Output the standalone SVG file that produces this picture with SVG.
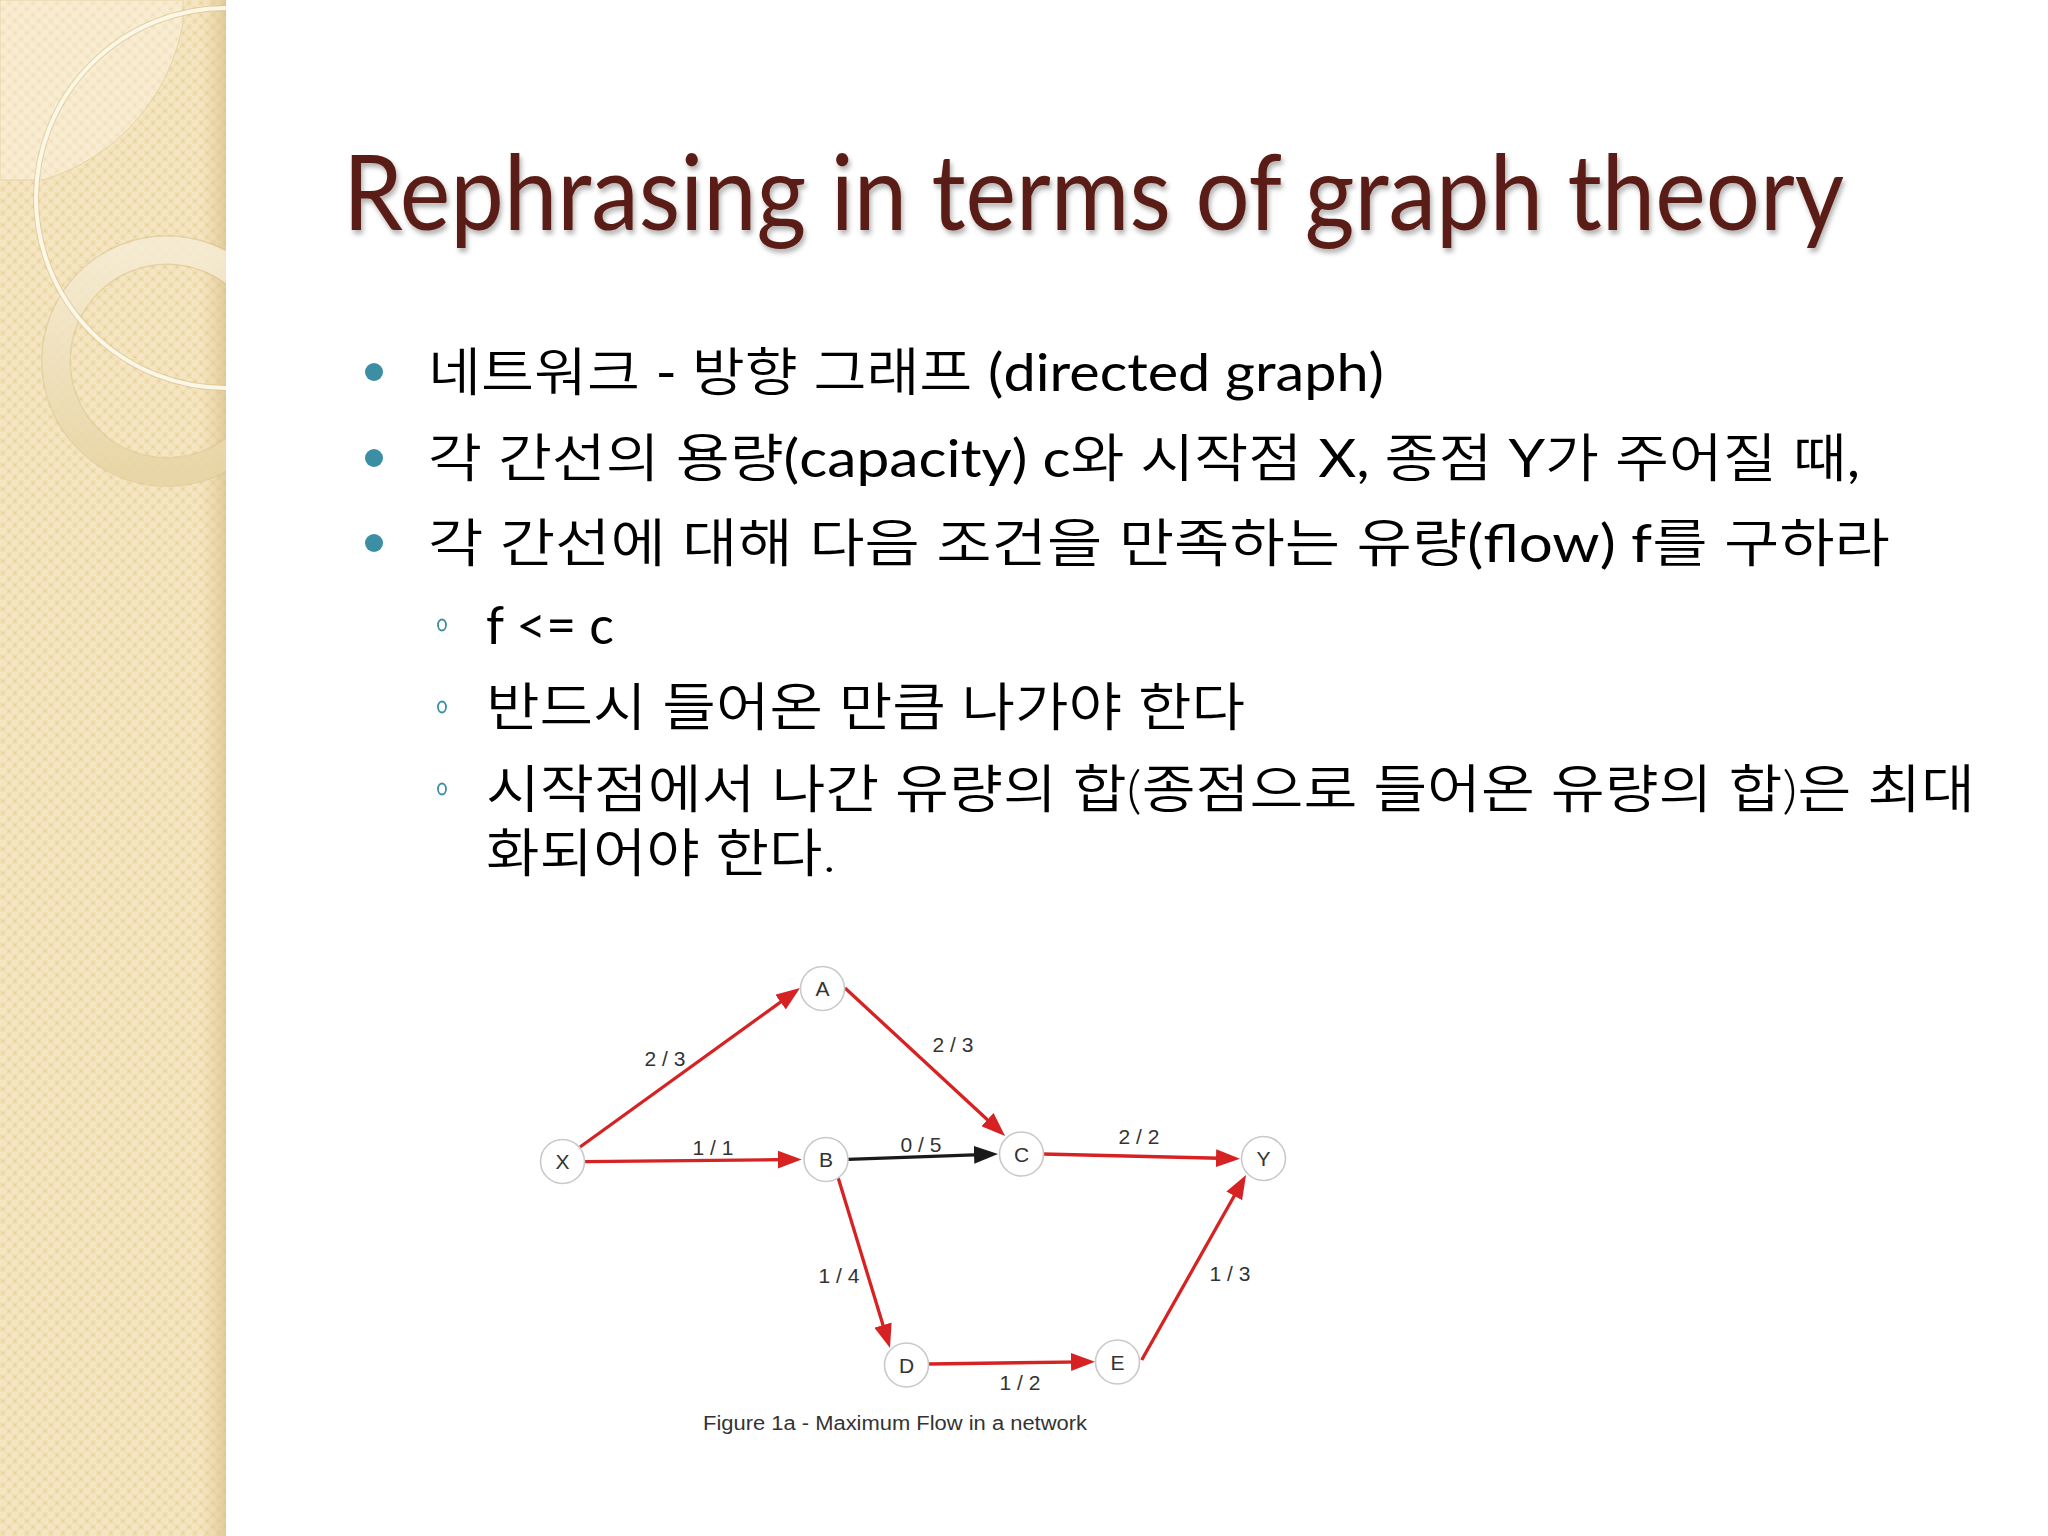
<svg xmlns="http://www.w3.org/2000/svg" width="2048" height="1536" viewBox="0 0 2048 1536">
  <defs>
    <style>
      .title { font-family: Lato, "Open Sans", sans-serif; font-size: 105px; fill: #5a1d13; }
      .body { font-family: Lato, "Noto Sans CJK KR", sans-serif; font-size: 52px; font-weight: 350; fill: #000; }
      .lat { font-weight: 400; }
      .dot { fill: #3b8ea4; }
      .ring { fill: none; stroke: #3b8ea4; stroke-width: 1.8; }
      .node circle { fill: #fff; stroke: #c9c9c9; stroke-width: 1.6; }
      .node text { font-family: "Liberation Sans", Arial, sans-serif; font-size: 21px; fill: #333; text-anchor: middle; }
      .lbl { font-family: "Liberation Sans", Arial, sans-serif; font-size: 21px; fill: #333; text-anchor: middle; }
      .cap { font-family: "Liberation Sans", Arial, sans-serif; font-size: 20px; fill: #333; }
      .er { stroke: #d62222; stroke-width: 3.3; fill: none; marker-end: url(#ar); }
      .eb { stroke: #1a1a1a; stroke-width: 3.3; fill: none; marker-end: url(#ab); }
    </style>
    <pattern id="chk" width="12" height="12" patternUnits="userSpaceOnUse">
      <rect width="12" height="12" fill="#f1deb2"/>
      <rect width="6" height="6" fill="#f5e6c3"/>
      <rect x="6" y="6" width="6" height="6" fill="#f5e6c3"/>
      <rect x="8" y="2" width="2" height="2" fill="#e8d19f"/>
      <rect x="2" y="8" width="2" height="2" fill="#e8d19f"/>
    </pattern>
    <linearGradient id="edge" x1="0" y1="0" x2="1" y2="0">
      <stop offset="0" stop-color="#e2cb98" stop-opacity="0"/>
      <stop offset="1" stop-color="#d9c08a" stop-opacity="0.7"/>
    </linearGradient>
    <linearGradient id="ringg" x1="0" y1="0" x2="0" y2="1">
      <stop offset="0" stop-color="#fbf3e0" stop-opacity="0.75"/>
      <stop offset="1" stop-color="#ead7a8" stop-opacity="0.8"/>
    </linearGradient>
    <clipPath id="panel"><rect x="0" y="0" width="226" height="1536"/></clipPath>
    <filter id="sh" x="-5%" y="-20%" width="110%" height="150%">
      <feDropShadow dx="2" dy="4" stdDeviation="2.5" flood-color="#000" flood-opacity="0.3"/>
    </filter>
    <marker id="ar" viewBox="0 0 24 18" refX="14" refY="9" markerWidth="24" markerHeight="18" markerUnits="userSpaceOnUse" orient="auto">
      <path d="M0,0 L24,9 L0,18 z" fill="#d62222"/>
    </marker>
    <marker id="ab" viewBox="0 0 24 18" refX="14" refY="9" markerWidth="24" markerHeight="18" markerUnits="userSpaceOnUse" orient="auto">
      <path d="M0,0 L24,9 L0,18 z" fill="#1a1a1a"/>
    </marker>
  </defs>

  <rect width="2048" height="1536" fill="#ffffff"/>

  <!-- left decorative panel -->
  <g id="panel-deco" clip-path="url(#panel)">
    <rect x="0" y="0" width="226" height="1536" fill="url(#chk)"/>
    <rect x="200" y="0" width="26" height="1536" fill="url(#edge)"/>
    <path d="M0,0 H183 V23 A 200 200 0 0 1 43 180 H0 Z" fill="#fffaf0" fill-opacity="0.35" stroke="#e6d3a6" stroke-width="1"/>
    <circle cx="167" cy="361" r="111" fill="none" stroke="#d8c18d" stroke-width="30" stroke-opacity="0.5"/>
    <circle cx="167" cy="361" r="111" fill="none" stroke="url(#ringg)" stroke-width="27"/>
    <circle cx="226" cy="198" r="190" fill="none" stroke="#d6bf8c" stroke-width="6" stroke-opacity="0.6"/>
    <circle cx="226" cy="198" r="190" fill="none" stroke="#fdf7e8" stroke-width="4"/>
  </g>

  <!-- title -->
  <text class="title" x="343" y="230" textLength="1501" lengthAdjust="spacingAndGlyphs" filter="url(#sh)">Rephrasing in terms of graph theory</text>

  <!-- bullets -->
  <g id="bullets">
    <circle class="dot" cx="374" cy="372" r="9"/>
    <text class="body" x="428" y="391" textLength="956" lengthAdjust="spacingAndGlyphs">네트워크 <tspan class="lat">- </tspan>방향 그래프 <tspan class="lat">(directed graph)</tspan></text>
    <circle class="dot" cx="374" cy="458" r="9"/>
    <text class="body" x="428" y="477" textLength="1432" lengthAdjust="spacingAndGlyphs">각 간선의 용량<tspan class="lat">(capacity) c</tspan>와 시작점 <tspan class="lat">X, </tspan>종점 <tspan class="lat">Y</tspan>가 주어질 때<tspan class="lat">,</tspan></text>
    <circle class="dot" cx="374" cy="543" r="9"/>
    <text class="body" x="428" y="562" textLength="1462" lengthAdjust="spacingAndGlyphs">각 간선에 대해 다음 조건을 만족하는 유량<tspan class="lat">(flow) f</tspan>를 구하라</text>

    <ellipse class="ring" cx="442" cy="625" rx="4" ry="5.5"/>
    <text class="body lat" x="486" y="644" textLength="128" lengthAdjust="spacingAndGlyphs">f &lt;= c</text>
    <ellipse class="ring" cx="442" cy="707" rx="4" ry="5.5"/>
    <text class="body" x="486" y="726" textLength="759" lengthAdjust="spacingAndGlyphs">반드시 들어온 만큼 나가야 한다</text>
    <ellipse class="ring" cx="442" cy="789" rx="4" ry="5.5"/>
    <text class="body" x="486" y="808" textLength="1489" lengthAdjust="spacingAndGlyphs">시작점에서 나간 유량의 합(종점으로 들어온 유량의 합)은 최대</text>
    <text class="body" x="486" y="872" textLength="350" lengthAdjust="spacingAndGlyphs">화되어야 한다.</text>
  </g>

  <!-- connectors -->
  <g id="edges">
    <line class="er" x1="580" y1="1147" x2="791.9" y2="993.9"/>
    <line class="er" x1="845" y1="988" x2="997.7" y2="1129.2"/>
    <line class="er" x1="585" y1="1161.7" x2="791.7" y2="1159.5"/>
    <line class="eb" x1="848" y1="1159.3" x2="988" y2="1154.3"/>
    <line class="er" x1="1043" y1="1154" x2="1230" y2="1158.5"/>
    <line class="er" x1="838.3" y1="1178.3" x2="887.1" y2="1338.4"/>
    <line class="er" x1="929" y1="1364" x2="1085" y2="1361.8"/>
    <line class="er" x1="1141.7" y1="1360" x2="1241.1" y2="1183.7"/>
    <text class="lbl" x="665" y="1065.5">2 / 3</text>
    <text class="lbl" x="953" y="1051.5">2 / 3</text>
    <text class="lbl" x="713" y="1154.5">1 / 1</text>
    <text class="lbl" x="921" y="1151.5">0 / 5</text>
    <text class="lbl" x="1139" y="1143.5">2 / 2</text>
    <text class="lbl" x="839" y="1282.5">1 / 4</text>
    <text class="lbl" x="1230" y="1280.5">1 / 3</text>
    <text class="lbl" x="1020" y="1389.5">1 / 2</text>
  </g>

  <!-- nodes -->
  <g id="node-X" class="node"><circle cx="562.5" cy="1161.5" r="22"/><text x="562.5" y="1169">X</text></g>
  <g id="node-A" class="node"><circle cx="822.5" cy="988.5" r="22"/><text x="822.5" y="996">A</text></g>
  <g id="node-B" class="node"><circle cx="826" cy="1159.5" r="22"/><text x="826" y="1167">B</text></g>
  <g id="node-C" class="node"><circle cx="1021.5" cy="1154" r="22"/><text x="1021.5" y="1161.5">C</text></g>
  <g id="node-Y" class="node"><circle cx="1263.5" cy="1158.5" r="22"/><text x="1263.5" y="1166">Y</text></g>
  <g id="node-D" class="node"><circle cx="906.5" cy="1365" r="22"/><text x="906.5" y="1372.5">D</text></g>
  <g id="node-E" class="node"><circle cx="1117.5" cy="1362" r="22"/><text x="1117.5" y="1369.5">E</text></g>

  <text class="cap" x="703" y="1430" textLength="384" lengthAdjust="spacingAndGlyphs">Figure 1a - Maximum Flow in a network</text>
</svg>
